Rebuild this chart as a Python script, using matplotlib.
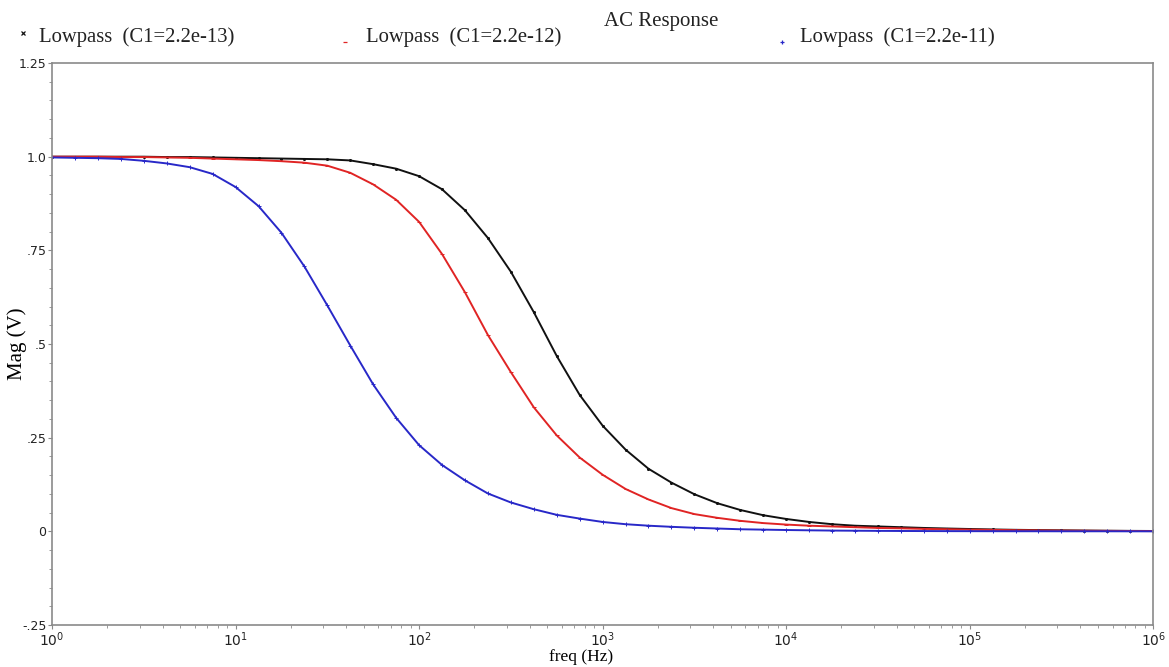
import numpy as np
import matplotlib
matplotlib.use("Agg")
import matplotlib.pyplot as plt
from matplotlib.lines import Line2D
from matplotlib.ticker import FixedLocator, LogLocator, NullFormatter

# frequency points (Hz), 8 per decade, where the curves were read
freq = [1, 1.334, 1.778, 2.371, 3.162, 4.217, 5.623, 7.499,
        10, 13.34, 17.78, 23.71, 31.62, 42.17, 56.23, 74.99,
        100, 133.4, 177.8, 237.1, 316.2, 421.7, 562.3, 749.9,
        1e3, 1334, 1778, 2371, 3162, 4217, 5623, 7499,
        1e4, 13340, 17780, 23710, 31620, 42170, 56230, 74990,
        1e5, 133400, 177800, 237100, 316200, 421700, 562300, 749900,
        1e6]

# C1 = 2.2e-13 (black)
mag_13 = [1.0, 1.0, 1.0, 1.0, 1.0, 0.999, 0.999, 0.998,
          0.997, 0.996, 0.995, 0.994, 0.993, 0.99, 0.98, 0.968,
          0.948, 0.913, 0.857, 0.783, 0.693, 0.585, 0.468, 0.364,
          0.282, 0.218, 0.167, 0.13, 0.099, 0.075, 0.057, 0.043,
          0.033, 0.025, 0.019, 0.015, 0.013, 0.011, 0.009, 0.0075,
          0.0062, 0.005, 0.004, 0.0033, 0.0027, 0.0021, 0.0016, 0.0012,
          0.0009]

# C1 = 2.2e-12 (red)
mag_12 = [1.0, 1.0, 1.0, 0.999, 0.999, 0.998, 0.997, 0.995,
          0.993, 0.991, 0.988, 0.984, 0.976, 0.957, 0.926, 0.885,
          0.826, 0.74, 0.638, 0.524, 0.425, 0.331, 0.256, 0.197,
          0.151, 0.113, 0.085, 0.062, 0.046, 0.036, 0.028, 0.022,
          0.018, 0.015, 0.013, 0.011, 0.009, 0.008, 0.0065, 0.0055,
          0.0045, 0.0038, 0.003, 0.0025, 0.002, 0.0016, 0.0012, 0.0009,
          0.0006]

# C1 = 2.2e-11 (blue)
mag_11 = [0.998, 0.997, 0.996, 0.994, 0.989, 0.982, 0.972, 0.954,
          0.919, 0.868, 0.797, 0.707, 0.603, 0.496, 0.392, 0.303,
          0.23, 0.177, 0.136, 0.101, 0.077, 0.059, 0.044, 0.034,
          0.025, 0.019, 0.015, 0.012, 0.0095, 0.0075, 0.0055, 0.0045,
          0.0035, 0.0027, 0.002, 0.0016, 0.0012, 0.0009, 0.0007, 0.0005,
          0.0004, 0.0003, 0.0002, 0.0002, 0.0001, 0.0001, 0.0001, 0.0,
          0.0]

labels = ["Lowpass  (C1=2.2e-13)", "Lowpass  (C1=2.2e-12)", "Lowpass  (C1=2.2e-11)"]
colors = ["#111111", "#e02424", "#2828c8"]
markers = [".", "_", "+"]

yticks = [-0.25, 0, 0.25, 0.5, 0.75, 1.0, 1.25]
ytick_labels = ["-.25", "0", ".25", ".5", ".75", "1.0", "1.25"]

fig = plt.figure(figsize=(11.69, 6.67), dpi=100)
ax = fig.add_axes([0.0445, 0.063, 0.942, 0.8425])

for mag, c, m in zip([mag_13, mag_12, mag_11], colors, markers):
    ax.plot(freq, mag, color=c, lw=1.4, marker=m, ms=3, mew=0.7)

ax.set_xscale("log")
ax.set_xlim(1, 1e6)
ax.set_ylim(-0.25, 1.25)

ax.yaxis.set_major_locator(FixedLocator(yticks))
ax.set_yticklabels(ytick_labels)
ax.yaxis.set_minor_locator(FixedLocator(np.arange(-0.25, 1.26, 0.05)))
ax.xaxis.set_minor_locator(LogLocator(base=10, subs=np.arange(2, 10)))
ax.xaxis.set_minor_formatter(NullFormatter())

for s in ax.spines.values():
    s.set_color("#8a8a8a")
    s.set_linewidth(1.2)
ax.tick_params(which="both", colors="#8a8a8a", labelcolor="#222222", direction="out")
ax.tick_params(which="major", length=3, labelsize=9, pad=1)
ax.tick_params(which="minor", length=2)
ax.tick_params(axis="x", labelsize=10, pad=1)

ax.set_xlabel("freq (Hz)", family="Liberation Serif", fontsize=12.5)
ax.xaxis.set_label_coords(0.48, -0.042)
ax.xaxis.label.set_va("top")
ax.set_ylabel("Mag (V)", family="Liberation Serif", fontsize=15)
ax.yaxis.set_label_coords(-0.023, 0.5)

# title and legend entries across the top
fig.text(0.5655, 0.9685, "AC Response", family="Liberation Serif", fontsize=15,
         ha="center", va="center", color="#222222")
leg_x = [0.0334, 0.313, 0.684]
mark_pos = [(0.0197, 0.9505), (0.295, 0.937), (0.669, 0.937)]
for lx, (mx, my), lab, c, m in zip(leg_x, mark_pos, labels, colors, ["x", "_", "+"]):
    fig.add_artist(Line2D([mx], [my], color=c, marker=m, ms=3.5,
                          mew=0.9, lw=0, transform=fig.transFigure))
    fig.text(lx, 0.945, lab, family="Liberation Serif", fontsize=14.9,
             ha="left", va="center", color="#222222")

fig.savefig("out.png", dpi=100)
